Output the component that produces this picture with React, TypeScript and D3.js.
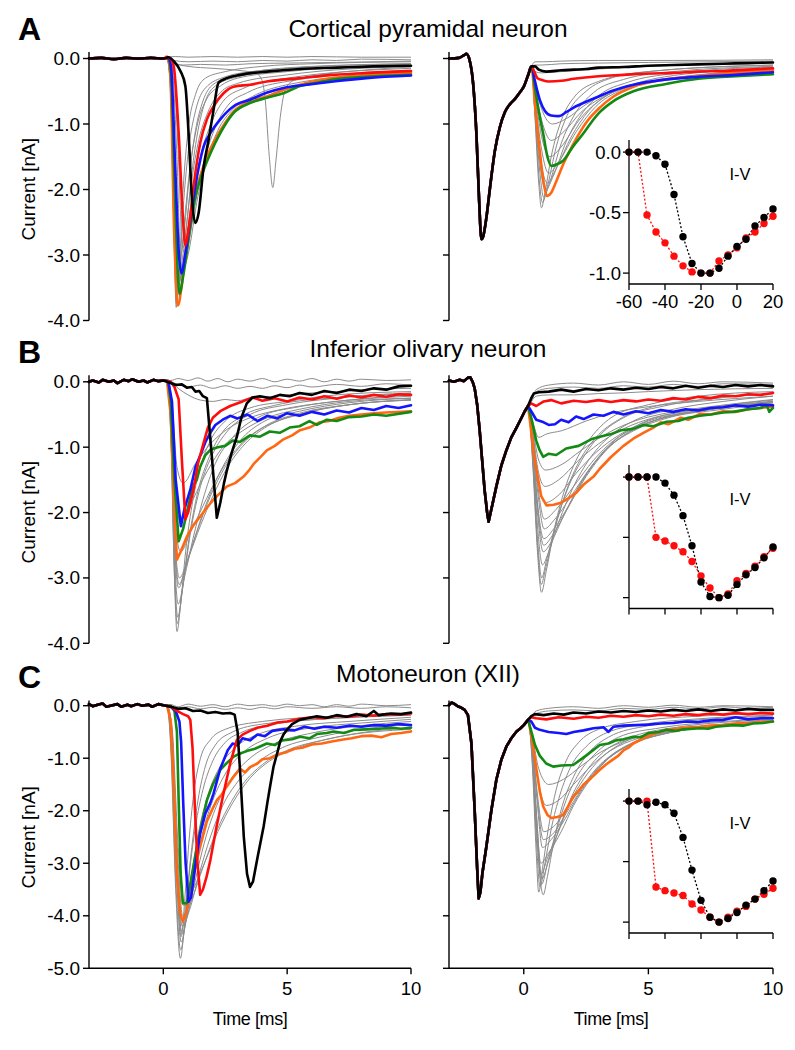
import React from "react";
import * as d3 from "d3";

type Pt = [number, number];

// ---------- Row A : Cortical pyramidal neuron ----------
const A_L_base: Pt[] = [[-3, 0], [-2.5, 0.01], [-2, -0.01], [-1.5, 0.01], [-1, 0], [-0.5, 0.01], [0, 0]];
const A_L_orange: Pt[] = [[0.15, 0.03], [0.28, -0.22], [0.44, -2.67], [0.59, -3.77], [0.75, -3.44], [0.95, -2.77], [1.15, -2.25], [1.36, -1.96], [1.76, -1.5], [2.16, -1.19], [2.5, -0.98], [2.84, -0.81], [3.5, -0.65], [4.18, -0.58], [4.85, -0.48], [5.52, -0.4], [6.2, -0.34], [6.87, -0.3], [8.2, -0.26], [10, -0.22]];
const A_L_green: Pt[] = [[0.2, 0.01], [0.31, -0.22], [0.48, -2.16], [0.65, -3.59], [0.82, -3.28], [1.09, -2.57], [1.3, -2.1], [1.49, -1.85], [1.9, -1.45], [2.3, -1.14], [2.84, -0.83], [3.5, -0.68], [4.18, -0.6], [4.85, -0.53], [5.52, -0.42], [6.2, -0.37], [6.87, -0.32], [8.2, -0.28], [10, -0.25]];
const A_L_blue: Pt[] = [[0.2, 0.01], [0.31, -0.12], [0.48, -1.65], [0.62, -2.93], [0.73, -3.28], [0.89, -2.98], [1.09, -2.47], [1.36, -1.8], [1.63, -1.34], [1.9, -1.14], [2.3, -0.93], [2.84, -0.73], [3.5, -0.63], [4.2, -0.52], [4.85, -0.45], [5.8, -0.4], [6.87, -0.35], [8.2, -0.3], [10, -0.26]];
const A_L_red: Pt[] = [[0.25, 0.01], [0.42, -0.12], [0.62, -1.14], [0.79, -2.42], [0.89, -2.85], [1.02, -2.62], [1.22, -1.96], [1.49, -1.29], [1.76, -0.93], [2.03, -0.73], [2.43, -0.53], [2.84, -0.43], [3.5, -0.4], [4.18, -0.35], [5.52, -0.3], [6.87, -0.25], [8.2, -0.22], [10, -0.19]];
const A_L_black: Pt[] = [[0.2, 0.02], [0.42, -0.04], [0.69, -0.19], [0.89, -0.42], [1.02, -1.14], [1.16, -2.16], [1.29, -2.51], [1.42, -2.37], [1.63, -1.65], [1.83, -1.24], [2.03, -0.78], [2.23, -0.37], [2.57, -0.3], [3.1, -0.25], [4.18, -0.2], [5.52, -0.16], [7, -0.14], [8.5, -0.12], [10, -0.11]];
const A_L_gray: Pt[][] = [
  [[0.15, 0], [0.3, -0.6], [0.45, -3.0], [0.52, -3.8], [0.62, -3.4], [0.8, -2.0], [1.0, -1.1], [1.3, -0.55], [1.7, -0.3], [2.5, -0.2], [4, -0.12], [6, -0.08], [10, -0.05]],
  [[0.15, 0], [0.3, -0.5], [0.45, -2.9], [0.53, -3.72], [0.64, -3.35], [0.8, -2.3], [1.0, -1.45], [1.3, -0.8], [1.7, -0.45], [2.5, -0.28], [4, -0.18], [6, -0.12], [10, -0.08]],
  [[0.15, 0], [0.3, -0.45], [0.46, -2.8], [0.55, -3.65], [0.66, -3.3], [0.85, -2.5], [1.05, -1.75], [1.35, -1.05], [1.75, -0.62], [2.3, -0.42], [3, -0.3], [5, -0.2], [10, -0.1]],
  [[0.15, 0], [0.3, -0.4], [0.47, -2.7], [0.56, -3.6], [0.68, -3.3], [0.88, -2.75], [1.1, -2.0], [1.4, -1.3], [1.8, -0.82], [2.3, -0.52], [3, -0.38], [5, -0.25], [10, -0.12]],
  [[0.15, 0], [0.3, -0.4], [0.48, -2.6], [0.57, -3.55], [0.7, -3.3], [0.92, -2.85], [1.2, -2.1], [1.5, -1.5], [1.9, -1.02], [2.4, -0.66], [3.2, -0.46], [5, -0.3], [10, -0.15]],
  [[0.15, 0], [0.3, -0.35], [0.48, -2.5], [0.58, -3.5], [0.72, -3.3], [0.96, -2.95], [1.3, -2.2], [1.7, -1.5], [2.1, -1.05], [2.6, -0.72], [3.4, -0.52], [5, -0.35], [10, -0.18]],
  [[0.15, 0], [0.3, -0.35], [0.5, -2.6], [0.6, -3.45], [0.75, -3.3], [1.0, -3.0], [1.4, -2.1], [1.8, -1.5], [2.2, -1.1], [2.8, -0.78], [3.6, -0.58], [5, -0.4], [10, -0.2]],
  [[0.15, 0], [0.35, -0.1], [0.55, -1.5], [0.7, -3.0], [0.85, -2.6], [1.05, -1.8], [1.3, -1.1], [1.6, -0.65], [2.0, -0.4], [3, -0.25], [5, -0.15], [10, -0.08]],
  [[0.2, 0], [0.4, -0.1], [0.6, -1.4], [0.78, -2.9], [0.95, -2.5], [1.15, -1.75], [1.4, -1.1], [1.7, -0.65], [2.1, -0.42], [3, -0.28], [5, -0.18], [10, -0.1]],
  [[0.2, 0], [0.4, -0.03], [1, -0.05], [2, -0.04], [3, -0.05], [4, -0.03], [5, -0.04], [6, -0.02], [7, -0.03], [8, -0.01], [10, -0.02]],
  [[0.2, 0.02], [0.5, 0.03], [1, 0.02], [2, 0.03], [3, 0.02], [4, 0.03], [5, 0.02], [6, 0.03], [8, 0.02], [10, 0.02]],
  [[0.2, 0], [0.4, -0.06], [0.8, -0.1], [1.5, -0.09], [2.5, -0.1], [3.5, -0.08], [5, -0.07], [7, -0.06], [10, -0.04]],
  [[0.2, 0], [0.5, -0.08], [1, -0.12], [2, -0.15], [3, -0.18], [3.7, -0.22], [3.95, -0.3], [4.12, -0.65], [4.28, -1.5], [4.42, -1.97], [4.55, -1.55], [4.72, -0.9], [4.95, -0.45], [5.3, -0.33], [6.5, -0.24], [8, -0.18], [10, -0.13]],
];

const A_R_pre: Pt[] = [[-3, 0], [-2.6, 0.01], [-2.4, 0.05], [-2.3, 0.07], [-2.17, -0.03], [-2.03, -0.39], [-1.9, -1.15], [-1.79, -2.18], [-1.7, -2.76], [-1.63, -2.72], [-1.5, -2.43], [-1.37, -2.02], [-1.16, -1.41], [-0.96, -1.05], [-0.76, -0.82], [-0.56, -0.7], [-0.36, -0.62], [-0.16, -0.52], [0, -0.43], [0.17, -0.26], [0.31, -0.12]];
const A_R_black: Pt[] = [[0.45, -0.12], [0.6, -0.17], [0.9, -0.2], [1.5, -0.18], [2, -0.17], [2.5, -0.16], [3, -0.14], [4, -0.13], [5, -0.11], [6, -0.1], [7, -0.09], [8, -0.08], [9, -0.07], [10, -0.06]];
const A_R_red: Pt[] = [[0.42, -0.2], [0.55, -0.3], [0.75, -0.33], [1.0, -0.35], [1.5, -0.34], [2, -0.31], [3, -0.27], [4, -0.25], [5, -0.23], [6, -0.22], [7, -0.2], [8, -0.19], [9, -0.17], [10, -0.15]];
const A_R_blue: Pt[] = [[0.45, -0.35], [0.65, -0.64], [0.85, -0.8], [1.1, -0.87], [1.4, -0.88], [1.7, -0.82], [2.0, -0.75], [2.5, -0.66], [3, -0.58], [3.5, -0.5], [4.4, -0.4], [5.5, -0.33], [7, -0.28], [8.5, -0.25], [10, -0.21]];
const A_R_green: Pt[] = [[0.45, -0.45], [0.6, -0.8], [0.78, -1.15], [0.95, -1.5], [1.11, -1.64], [1.3, -1.62], [1.58, -1.56], [2.0, -1.33], [2.38, -1.15], [2.7, -0.98], [3.05, -0.82], [3.6, -0.65], [4.4, -0.5], [5.7, -0.39], [7, -0.31], [8.5, -0.27], [10, -0.24]];
const A_R_orange: Pt[] = [[0.45, -0.7], [0.64, -1.41], [0.8, -1.9], [0.93, -2.1], [1.1, -2.05], [1.31, -1.87], [1.6, -1.6], [1.98, -1.31], [2.5, -0.98], [3.05, -0.75], [3.6, -0.58], [4.4, -0.43], [5.5, -0.33], [7, -0.27], [8.5, -0.22], [10, -0.18]];
const A_R_gray: Pt[][] = [
  [[0.45, -0.9], [0.6, -1.9], [0.71, -2.28], [0.85, -2.05], [1.1, -1.5], [1.5, -0.95], [2, -0.6], [3, -0.35], [5, -0.2], [10, -0.1]],
  [[0.45, -0.85], [0.62, -1.85], [0.75, -2.2], [0.95, -1.95], [1.3, -1.35], [1.8, -0.82], [2.5, -0.5], [3.5, -0.3], [5, -0.2], [10, -0.1]],
  [[0.45, -0.8], [0.65, -1.75], [0.8, -2.12], [1.05, -1.88], [1.5, -1.3], [2.0, -0.88], [2.8, -0.52], [4, -0.32], [6, -0.2], [10, -0.12]],
  [[0.45, -0.75], [0.68, -1.7], [0.88, -2.0], [1.2, -1.78], [1.7, -1.27], [2.3, -0.86], [3, -0.57], [4.2, -0.36], [6, -0.23], [10, -0.13]],
  [[0.45, -0.7], [0.7, -1.6], [0.95, -1.9], [1.3, -1.68], [1.9, -1.2], [2.6, -0.8], [3.4, -0.55], [4.6, -0.37], [6, -0.26], [10, -0.15]],
  [[0.45, -0.6], [0.72, -1.4], [1.0, -1.75], [1.4, -1.58], [2.1, -1.12], [2.9, -0.73], [3.8, -0.5], [5, -0.36], [7, -0.25], [10, -0.17]],
  [[0.45, -0.55], [0.75, -1.25], [1.05, -1.5], [1.5, -1.35], [2.2, -0.95], [3.0, -0.65], [4.0, -0.45], [5.5, -0.33], [7.5, -0.25], [10, -0.18]],
  [[0.45, -0.45], [0.8, -1.05], [1.1, -1.25], [1.6, -1.12], [2.3, -0.82], [3.2, -0.58], [4.3, -0.42], [6, -0.3], [10, -0.18]],
  [[0.45, -0.4], [0.8, -0.85], [1.15, -1.0], [1.7, -0.92], [2.5, -0.7], [3.5, -0.5], [5, -0.36], [7, -0.26], [10, -0.18]],
  [[0.45, -0.2], [0.7, -0.22], [1.5, -0.2], [3, -0.16], [5, -0.12], [10, -0.06]],
  [[0.45, -0.1], [0.7, -0.1], [1.5, -0.08], [3, -0.07], [5, -0.06], [10, -0.04]],
  [[0.45, -0.05], [0.8, -0.05], [1.5, -0.04], [3, -0.03], [6, -0.03], [10, -0.02]],
];

// ---------- Row B : Inferior olivary neuron ----------
const B_L_base: Pt[] = [[-3, 0], [-2.85, 0.02], [-2.6, -0.01], [-2.45, 0.03], [-2.2, 0], [-2.0, 0.02], [-1.85, -0.02], [-1.6, 0.03], [-1.4, 0.01], [-1.25, 0.04], [-1.0, 0], [-0.8, 0.02], [-0.65, -0.01], [-0.4, 0.03], [-0.2, 0.01], [0, 0.02]];
const B_L_black: Pt[] = [[0.25, -0.01], [0.5, -0.05], [0.75, -0.04], [0.95, -0.09], [1.15, -0.08], [1.3, -0.15], [1.45, -0.14], [1.6, -0.22], [1.76, -0.25], [1.95, -1.1], [2.16, -2.08], [2.3, -1.85], [2.45, -1.55], [2.57, -1.35], [2.75, -1.1], [2.97, -0.84], [3.15, -0.55], [3.37, -0.33], [3.6, -0.24], [3.9, -0.22], [4.3, -0.25], [4.7, -0.2], [5.1, -0.22], [5.5, -0.17], [6, -0.2], [6.5, -0.14], [7, -0.17], [7.5, -0.12], [8, -0.14], [8.5, -0.1], [9, -0.12], [9.5, -0.07], [10, -0.06]];
const B_L_red: Pt[] = [[0.3, 0], [0.45, -0.08], [0.62, -0.27], [0.75, -1.2], [0.89, -2.1], [1.0, -2.0], [1.22, -1.65], [1.4, -1.25], [1.63, -0.93], [1.8, -0.7], [2.0, -0.55], [2.3, -0.45], [2.7, -0.37], [3.2, -0.3], [3.6, -0.24], [4.0, -0.29], [4.5, -0.25], [5, -0.3], [5.5, -0.24], [6, -0.27], [6.5, -0.22], [7, -0.26], [7.5, -0.21], [8, -0.24], [8.5, -0.2], [9, -0.23], [9.5, -0.19], [10, -0.2]];
const B_L_blue: Pt[] = [[0.2, 0.01], [0.35, -0.3], [0.5, -1.5], [0.71, -2.21], [0.85, -1.95], [1.09, -1.65], [1.3, -1.3], [1.5, -1.12], [1.7, -0.92], [1.9, -0.78], [2.1, -0.66], [2.4, -0.58], [2.7, -0.52], [3.0, -0.56], [3.4, -0.5], [3.8, -0.6], [4.2, -0.52], [4.6, -0.56], [5, -0.48], [5.5, -0.52], [6, -0.46], [6.5, -0.5], [7, -0.44], [7.5, -0.47], [8, -0.4], [8.5, -0.43], [9, -0.37], [9.5, -0.4], [10, -0.36]];
const B_L_green: Pt[] = [[0.2, 0.01], [0.3, -0.3], [0.45, -1.5], [0.62, -2.44], [0.8, -2.25], [0.95, -2.0], [1.2, -1.6], [1.35, -1.5], [1.49, -1.3], [1.7, -1.12], [1.9, -1.04], [2.2, -1.0], [2.5, -0.98], [2.8, -0.9], [3.1, -0.92], [3.5, -0.82], [3.9, -0.84], [4.3, -0.76], [4.7, -0.78], [5.1, -0.7], [5.5, -0.68], [5.9, -0.6], [6.2, -0.66], [6.6, -0.58], [7, -0.6], [7.5, -0.54], [8, -0.53], [8.5, -0.5], [9, -0.52], [10, -0.46]];
const B_L_orange: Pt[] = [[0.15, 0.01], [0.3, -0.5], [0.45, -2.0], [0.55, -2.72], [0.7, -2.6], [0.95, -2.37], [1.2, -2.2], [1.49, -2.06], [1.75, -1.93], [2.03, -1.8], [2.3, -1.7], [2.57, -1.6], [2.9, -1.55], [3.24, -1.45], [3.45, -1.36], [3.64, -1.26], [3.9, -1.16], [4.18, -1.05], [4.5, -0.98], [4.85, -0.88], [5.2, -0.82], [5.52, -0.74], [5.9, -0.7], [6.3, -0.62], [6.7, -0.6], [7.1, -0.55], [7.5, -0.52], [8, -0.5], [8.5, -0.48], [9, -0.47], [10, -0.45]];
const B_L_gray: Pt[][] = [
  [[0.15, 0], [0.3, -0.8], [0.45, -3.0], [0.55, -3.82], [0.7, -3.4], [0.9, -2.6], [1.2, -1.8], [1.5, -1.3], [1.9, -0.9], [2.5, -0.6], [3.5, -0.4], [5, -0.3], [7, -0.2], [10, -0.15]],
  [[0.15, 0], [0.3, -0.75], [0.45, -2.95], [0.56, -3.7], [0.75, -3.25], [1.0, -2.5], [1.35, -1.75], [1.8, -1.2], [2.3, -0.82], [3.2, -0.52], [4.5, -0.36], [7, -0.24], [10, -0.17]],
  [[0.15, 0], [0.3, -0.7], [0.46, -2.9], [0.58, -3.6], [0.8, -3.1], [1.1, -2.3], [1.5, -1.6], [2, -1.1], [2.6, -0.75], [3.5, -0.5], [5, -0.35], [7, -0.25], [10, -0.18]],
  [[0.15, 0], [0.3, -0.65], [0.47, -2.8], [0.6, -3.4], [0.85, -3.0], [1.2, -2.4], [1.6, -1.8], [2.1, -1.25], [2.8, -0.85], [3.8, -0.55], [5.5, -0.38], [7.5, -0.28], [10, -0.2]],
  [[0.15, 0], [0.3, -0.6], [0.48, -2.7], [0.62, -3.15], [0.9, -2.85], [1.3, -2.35], [1.8, -1.8], [2.4, -1.3], [3.1, -0.9], [4, -0.62], [5.5, -0.45], [7.5, -0.32], [10, -0.25]],
  [[0.15, 0], [0.3, -0.6], [0.5, -2.7], [0.64, -3.1], [0.95, -2.75], [1.4, -2.25], [1.9, -1.75], [2.5, -1.3], [3.2, -0.95], [4.1, -0.68], [5.5, -0.48], [7.5, -0.35], [10, -0.27]],
  [[0.15, 0], [0.3, -0.55], [0.5, -2.6], [0.65, -3.0], [1.0, -2.7], [1.5, -2.2], [2.0, -1.75], [2.6, -1.3], [3.3, -0.95], [4.2, -0.68], [5.5, -0.5], [7.5, -0.35], [10, -0.28]],
  [[0.15, 0], [0.32, -0.5], [0.52, -2.3], [0.7, -2.6], [1.1, -2.3], [1.6, -1.9], [2.2, -1.45], [2.8, -1.1], [3.6, -0.8], [4.6, -0.6], [6, -0.45], [8, -0.33], [10, -0.28]],
  [[0.15, 0], [0.35, -0.4], [0.55, -1.9], [0.75, -2.2], [1.2, -1.8], [1.8, -1.35], [2.4, -1.0], [3.2, -0.75], [4.2, -0.55], [5.5, -0.42], [7.5, -0.3], [10, -0.25]],
  [[0.15, 0], [0.35, -0.3], [0.55, -1.3], [0.8, -1.55], [1.3, -1.25], [1.9, -0.95], [2.6, -0.72], [3.5, -0.55], [4.8, -0.42], [6.5, -0.32], [10, -0.22]],
  [[0.3, 0.02], [0.6, 0.05], [1, 0.02], [1.4, 0.06], [1.8, 0.01], [2.2, 0.05], [2.6, 0], [3, 0.04], [3.5, 0.01], [4, 0.05], [4.5, 0], [5, 0.04], [5.5, 0.01], [6, 0.05], [6.5, 0], [7, 0.04], [7.5, 0.01], [8, 0.04], [9, 0.02], [10, 0.03]],
  [[0.3, 0], [0.6, -0.04], [1, -0.08], [1.5, -0.05], [2, -0.1], [2.5, -0.06], [3, -0.1], [3.5, -0.07], [4, -0.1], [4.5, -0.06], [5, -0.09], [5.5, -0.05], [6, -0.08], [7, -0.04], [8, -0.07], [9, -0.03], [10, -0.05]],
  [[0.3, 0], [0.6, -0.1], [1, -0.2], [1.5, -0.28], [2, -0.3], [2.5, -0.27], [3, -0.29], [3.5, -0.25], [4, -0.24], [5, -0.2], [6, -0.17], [7, -0.15], [8, -0.12], [10, -0.1]],
];

const B_R_pre: Pt[] = [[-3, 0.02], [-2.8, 0], [-2.57, 0.03], [-2.4, 0.01], [-2.25, 0.06], [-2.15, 0.07], [-2.05, 0], [-1.97, -0.1], [-1.87, -0.35], [-1.77, -0.74], [-1.67, -1.2], [-1.57, -1.66], [-1.47, -2.0], [-1.41, -2.14], [-1.33, -2.0], [-1.26, -1.88], [-1.1, -1.6], [-0.9, -1.28], [-0.7, -1.05], [-0.5, -0.85], [-0.29, -0.7], [-0.09, -0.55], [0.04, -0.45], [0.17, -0.37]];
const B_R_black: Pt[] = [[0.3, -0.25], [0.4, -0.18], [0.6, -0.16], [1, -0.15], [1.5, -0.12], [2, -0.15], [2.5, -0.11], [3, -0.13], [3.5, -0.1], [4, -0.12], [4.5, -0.09], [5, -0.11], [5.5, -0.08], [6, -0.1], [6.5, -0.06], [7, -0.09], [7.5, -0.06], [8, -0.08], [8.5, -0.05], [9, -0.07], [9.5, -0.05], [10, -0.07]];
const B_R_red: Pt[] = [[0.3, -0.33], [0.5, -0.37], [0.8, -0.3], [1.1, -0.28], [1.5, -0.33], [2, -0.29], [2.5, -0.31], [3, -0.28], [3.5, -0.31], [4, -0.28], [4.5, -0.3], [5, -0.27], [5.5, -0.29], [6, -0.25], [6.5, -0.27], [7, -0.23], [7.5, -0.25], [8, -0.21], [8.5, -0.22], [9, -0.19], [9.5, -0.2], [10, -0.17]];
const B_R_blue: Pt[] = [[0.3, -0.45], [0.5, -0.58], [0.8, -0.62], [1.0, -0.66], [1.25, -0.65], [1.5, -0.58], [1.8, -0.62], [2.1, -0.53], [2.4, -0.57], [2.8, -0.5], [3.2, -0.52], [3.6, -0.46], [4, -0.5], [4.5, -0.45], [5, -0.48], [5.5, -0.43], [6, -0.46], [6.5, -0.42], [7, -0.44], [7.5, -0.4], [8, -0.39], [8.5, -0.36], [9, -0.38], [9.5, -0.35], [10, -0.36]];
const B_R_green: Pt[] = [[0.3, -0.55], [0.5, -0.9], [0.64, -1.05], [0.78, -1.15], [1.0, -1.1], [1.3, -1.12], [1.7, -1.02], [2.2, -0.98], [2.7, -0.88], [3.05, -0.84], [3.5, -0.8], [3.9, -0.74], [4.39, -0.72], [4.8, -0.66], [5.2, -0.68], [5.73, -0.61], [6.2, -0.6], [6.6, -0.55], [7.07, -0.52], [7.5, -0.5], [8, -0.47], [8.4, -0.46], [9, -0.42], [9.5, -0.4], [9.75, -0.36], [9.85, -0.46], [10, -0.4]];
const B_R_orange: Pt[] = [[0.25, -0.6], [0.4, -1.1], [0.51, -1.35], [0.7, -1.75], [0.91, -1.89], [1.2, -1.88], [1.5, -1.85], [1.8, -1.78], [2.1, -1.7], [2.38, -1.58], [2.8, -1.45], [3.05, -1.33], [3.5, -1.15], [4, -0.98], [4.39, -0.87], [4.8, -0.78], [5.2, -0.7], [5.5, -0.62], [5.8, -0.65], [6.3, -0.55], [6.6, -0.58], [7.07, -0.49], [7.5, -0.5], [8, -0.45], [8.5, -0.46], [9, -0.42], [9.5, -0.4], [10, -0.38]];
const B_R_gray: Pt[][] = [
  [[0.35, -1.2], [0.55, -2.6], [0.71, -3.22], [0.9, -2.9], [1.2, -2.3], [1.6, -1.7], [2.1, -1.2], [2.7, -0.85], [3.5, -0.55], [5, -0.35], [7, -0.22], [10, -0.15]],
  [[0.35, -1.15], [0.55, -2.5], [0.7, -3.1], [0.88, -2.85], [1.25, -2.25], [1.7, -1.68], [2.25, -1.2], [2.9, -0.85], [3.8, -0.58], [5.2, -0.38], [7.5, -0.26], [10, -0.18]],
  [[0.35, -1.1], [0.55, -2.4], [0.72, -3.0], [0.9, -2.75], [1.3, -2.15], [1.8, -1.6], [2.4, -1.15], [3.1, -0.8], [4, -0.55], [5.5, -0.38], [7.5, -0.26], [10, -0.18]],
  [[0.35, -1.0], [0.55, -2.2], [0.75, -2.8], [1.0, -2.6], [1.4, -2.15], [2.0, -1.6], [2.6, -1.2], [3.4, -0.85], [4.4, -0.6], [6, -0.42], [8, -0.3], [10, -0.22]],
  [[0.35, -0.95], [0.55, -2.0], [0.78, -2.6], [1.1, -2.45], [1.6, -2.05], [2.2, -1.6], [2.9, -1.2], [3.7, -0.88], [4.8, -0.62], [6.5, -0.45], [8.5, -0.34], [10, -0.28]],
  [[0.35, -0.9], [0.55, -1.9], [0.8, -2.5], [1.15, -2.35], [1.7, -1.98], [2.35, -1.52], [3.1, -1.12], [4.0, -0.82], [5.2, -0.6], [7, -0.45], [10, -0.32]],
  [[0.35, -0.9], [0.55, -1.85], [0.8, -2.4], [1.2, -2.25], [1.8, -1.9], [2.5, -1.45], [3.3, -1.05], [4.2, -0.78], [5.5, -0.56], [7.5, -0.42], [10, -0.3]],
  [[0.35, -0.85], [0.58, -1.75], [0.82, -2.25], [1.25, -2.1], [1.9, -1.75], [2.6, -1.35], [3.4, -1.0], [4.4, -0.75], [5.8, -0.55], [8, -0.42], [10, -0.32]],
  [[0.35, -0.8], [0.6, -1.7], [0.82, -2.1], [1.3, -1.95], [2.0, -1.6], [2.8, -1.2], [3.6, -0.9], [4.6, -0.68], [6, -0.52], [8, -0.4], [10, -0.3]],
  [[0.35, -0.78], [0.6, -1.55], [0.85, -1.85], [1.35, -1.75], [2.1, -1.4], [2.9, -1.08], [3.8, -0.82], [5, -0.6], [6.5, -0.47], [10, -0.32]],
  [[0.35, -0.75], [0.6, -1.4], [0.85, -1.6], [1.4, -1.5], [2.2, -1.2], [3, -0.95], [4, -0.72], [5.2, -0.55], [7, -0.42], [10, -0.3]],
  [[0.35, -0.7], [0.6, -1.2], [0.88, -1.35], [1.45, -1.28], [2.3, -1.05], [3.2, -0.82], [4.3, -0.62], [5.7, -0.48], [7.5, -0.38], [10, -0.27]],
  [[0.35, -0.6], [0.6, -0.85], [0.9, -0.8], [1.5, -0.75], [2.5, -0.6], [3.5, -0.48], [5, -0.38], [7, -0.3], [10, -0.22]],
  [[0.3, -0.3], [0.5, -0.15], [1, -0.1], [2, -0.08], [3, -0.1], [4, -0.06], [5, -0.08], [6, -0.04], [7, -0.07], [8, -0.03], [10, -0.04]],
  [[0.3, -0.3], [0.5, -0.12], [1, -0.05], [2, -0.02], [3, -0.05], [4, 0], [5, -0.04], [6, 0.01], [7, -0.03], [8, 0], [10, -0.02]],
  [[0.3, -0.3], [0.5, -0.22], [1, -0.2], [2, -0.2], [3, -0.18], [4, -0.17], [5, -0.15], [7, -0.12], [10, -0.1]],
];

// ---------- Row C : Motoneuron (XII) ----------
const C_L_base: Pt[] = [[-3, 0.03], [-2.85, -0.01], [-2.65, 0.02], [-2.45, 0.04], [-2.3, -0.02], [-2.05, 0.01], [-1.85, 0.03], [-1.7, -0.02], [-1.45, 0.02], [-1.3, -0.01], [-1.05, 0.03], [-0.85, 0], [-0.6, 0.02], [-0.45, -0.02], [-0.2, 0.03], [0, 0.01]];
const C_L_black: Pt[] = [[0.3, -0.02], [0.6, -0.06], [0.9, -0.05], [1.2, -0.1], [1.5, -0.09], [1.8, -0.14], [2.1, -0.12], [2.4, -0.15], [2.7, -0.14], [2.88, -0.17], [3.0, -0.5], [3.12, -1.4], [3.25, -2.5], [3.38, -3.2], [3.5, -3.45], [3.62, -3.35], [3.8, -2.9], [4.05, -2.3], [4.2, -1.85], [4.31, -1.54], [4.45, -1.16], [4.6, -0.9], [4.72, -0.68], [4.85, -0.55], [4.99, -0.46], [5.2, -0.35], [5.5, -0.27], [5.8, -0.24], [6.2, -0.2], [6.6, -0.23], [7, -0.18], [7.4, -0.21], [7.8, -0.16], [8.2, -0.2], [8.5, -0.1], [8.7, -0.18], [9.2, -0.15], [9.6, -0.16], [10, -0.13]];
const C_L_red: Pt[] = [[0.3, -0.02], [0.55, -0.1], [0.8, -0.16], [1.0, -0.2], [1.09, -0.27], [1.18, -0.8], [1.28, -2.0], [1.38, -3.0], [1.49, -3.6], [1.6, -3.5], [1.75, -3.25], [1.9, -2.94], [2.15, -2.3], [2.43, -1.67], [2.7, -1.1], [2.97, -0.65], [3.2, -0.55], [3.5, -0.48], [3.8, -0.42], [4.2, -0.38], [4.6, -0.32], [5, -0.3], [5.5, -0.25], [6, -0.22], [6.5, -0.24], [7, -0.19], [7.5, -0.21], [8, -0.17], [8.5, -0.19], [9, -0.16], [9.5, -0.17], [10, -0.15]];
const C_L_blue: Pt[] = [[0.3, -0.02], [0.5, -0.1], [0.65, -0.3], [0.72, -0.7], [0.8, -1.8], [0.9, -3.0], [1.02, -3.73], [1.12, -3.65], [1.25, -3.2], [1.4, -2.7], [1.49, -2.43], [1.7, -2.05], [1.9, -1.85], [2.03, -1.67], [2.3, -1.2], [2.6, -0.85], [2.8, -0.72], [3.0, -0.75], [3.2, -0.62], [3.5, -0.66], [3.8, -0.55], [4.1, -0.58], [4.4, -0.48], [4.85, -0.45], [5.3, -0.47], [5.7, -0.4], [6.1, -0.44], [6.5, -0.4], [7, -0.42], [7.5, -0.38], [8, -0.4], [8.5, -0.37], [9, -0.38], [9.5, -0.35], [10, -0.37]];
const C_L_green: Pt[] = [[0.3, 0], [0.45, -0.1], [0.55, -0.5], [0.62, -1.8], [0.7, -3.2], [0.79, -3.76], [0.95, -3.76], [1.05, -3.5], [1.2, -3.1], [1.36, -2.68], [1.55, -2.25], [1.76, -1.8], [2.0, -1.5], [2.3, -1.22], [2.5, -1.12], [2.84, -0.97], [3.1, -0.91], [3.4, -0.86], [3.7, -0.82], [4.18, -0.72], [4.5, -0.75], [4.8, -0.66], [5.2, -0.64], [5.52, -0.59], [5.9, -0.62], [6.2, -0.54], [6.6, -0.52], [6.87, -0.49], [7.3, -0.52], [7.7, -0.46], [8.2, -0.45], [8.7, -0.44], [9.2, -0.42], [9.6, -0.44], [10, -0.42]];
const C_L_orange: Pt[] = [[0.15, 0.01], [0.3, -0.3], [0.42, -1.5], [0.55, -3.2], [0.68, -3.95], [0.79, -4.11], [0.92, -3.95], [1.09, -3.57], [1.3, -3.05], [1.49, -2.68], [1.76, -2.2], [2.0, -1.95], [2.16, -1.8], [2.35, -1.7], [2.5, -1.58], [2.84, -1.35], [3.1, -1.2], [3.3, -1.27], [3.5, -1.17], [3.8, -1.1], [4.0, -1.02], [4.3, -1.0], [4.6, -0.93], [5.0, -0.88], [5.3, -0.82], [5.6, -0.8], [6.0, -0.74], [6.4, -0.72], [6.8, -0.68], [7.2, -0.65], [7.6, -0.62], [8.0, -0.58], [8.4, -0.57], [8.8, -0.6], [9.2, -0.54], [9.6, -0.52], [10, -0.49]];
const C_L_gray: Pt[][] = [
  [[0.15, 0], [0.3, -0.8], [0.5, -3.5], [0.69, -4.81], [0.85, -4.2], [1.05, -3.2], [1.3, -2.3], [1.6, -1.6], [2.0, -1.05], [2.5, -0.7], [3.2, -0.5], [4.5, -0.35], [6.5, -0.25], [10, -0.18]],
  [[0.15, 0], [0.3, -0.7], [0.5, -3.3], [0.7, -4.65], [0.9, -4.1], [1.15, -3.2], [1.45, -2.35], [1.8, -1.7], [2.3, -1.15], [2.9, -0.8], [3.8, -0.55], [5.5, -0.38], [7.5, -0.3], [10, -0.22]],
  [[0.15, 0], [0.3, -0.6], [0.52, -3.1], [0.72, -4.5], [0.95, -4.0], [1.25, -3.2], [1.6, -2.4], [2.0, -1.8], [2.5, -1.3], [3.2, -0.9], [4.2, -0.62], [6, -0.42], [8, -0.33], [10, -0.26]],
  [[0.15, 0], [0.3, -0.55], [0.54, -3.0], [0.74, -4.35], [1.0, -3.95], [1.35, -3.2], [1.75, -2.45], [2.2, -1.85], [2.8, -1.35], [3.5, -1.0], [4.5, -0.72], [6, -0.52], [8, -0.38], [10, -0.3]],
  [[0.15, 0], [0.3, -0.5], [0.56, -2.9], [0.76, -4.2], [1.05, -3.9], [1.45, -3.2], [1.9, -2.5], [2.4, -1.9], [3.0, -1.45], [3.8, -1.08], [4.8, -0.8], [6.3, -0.6], [8, -0.45], [10, -0.36]],
  [[0.15, 0], [0.32, -0.45], [0.58, -2.8], [0.78, -4.0], [1.1, -3.75], [1.55, -3.15], [2.05, -2.5], [2.6, -1.95], [3.2, -1.5], [4.0, -1.12], [5, -0.85], [6.5, -0.65], [8.2, -0.5], [10, -0.42]],
  [[0.15, 0], [0.35, -0.4], [0.6, -2.7], [0.8, -3.8], [1.2, -3.5], [1.7, -2.95], [2.2, -2.4], [2.8, -1.85], [3.5, -1.38], [4.3, -1.05], [5.3, -0.82], [7, -0.6], [10, -0.45]],
  [[0.15, 0], [0.35, -0.5], [0.55, -3.3], [0.72, -4.4], [0.88, -3.6], [1.05, -2.5], [1.25, -1.6], [1.5, -1.0], [1.9, -0.65], [2.5, -0.45], [4, -0.3], [7, -0.2], [10, -0.15]],
  [[0.15, 0], [0.35, -0.45], [0.57, -3.2], [0.74, -4.3], [0.92, -3.7], [1.15, -2.7], [1.4, -1.8], [1.7, -1.15], [2.1, -0.75], [2.8, -0.5], [4, -0.35], [7, -0.24], [10, -0.18]],
  [[0.3, 0.02], [0.6, -0.02], [1, 0.03], [1.5, -0.01], [2, 0.02], [2.5, -0.02], [3, 0.03], [3.5, 0], [4, 0.02], [4.5, -0.01], [5, 0.03], [5.5, 0], [6, 0.02], [6.5, -0.02], [7, 0.02], [7.5, -0.01], [8, 0.03], [9, 0], [10, 0.02]],
  [[0.3, 0], [0.6, -0.04], [1, -0.02], [1.5, -0.06], [2, -0.03], [2.5, -0.07], [3, -0.04], [3.5, -0.07], [4, -0.03], [4.5, -0.06], [5, -0.02], [6, -0.05], [7, -0.02], [8, -0.05], [9, -0.02], [10, -0.04]],
];

const C_R_pre: Pt[] = [[-3, 0.01], [-2.9, 0.06], [-2.8, 0.04], [-2.65, -0.01], [-2.5, -0.04], [-2.37, -0.08], [-2.24, -0.18], [-2.1, -0.72], [-1.97, -1.99], [-1.87, -3.1], [-1.81, -3.67], [-1.74, -3.55], [-1.66, -3.19], [-1.5, -2.68], [-1.3, -1.99], [-1.1, -1.41], [-0.9, -1.03], [-0.7, -0.78], [-0.5, -0.62], [-0.29, -0.49], [-0.13, -0.43], [0, -0.37], [0.17, -0.27]];
const C_R_black: Pt[] = [[0.3, -0.2], [0.45, -0.16], [0.8, -0.18], [1.2, -0.15], [1.6, -0.17], [2, -0.13], [2.5, -0.15], [3, -0.11], [3.5, -0.13], [4, -0.1], [4.5, -0.12], [5, -0.09], [5.5, -0.11], [6, -0.08], [6.5, -0.1], [7, -0.07], [7.5, -0.1], [8, -0.07], [8.5, -0.09], [9, -0.06], [9.5, -0.08], [10, -0.08]];
const C_R_red: Pt[] = [[0.3, -0.22], [0.5, -0.24], [0.9, -0.26], [1.4, -0.22], [2, -0.25], [2.5, -0.21], [3, -0.23], [3.5, -0.19], [4, -0.21], [4.5, -0.18], [5, -0.2], [5.5, -0.17], [6, -0.19], [6.5, -0.16], [7, -0.18], [7.5, -0.15], [8, -0.17], [8.5, -0.14], [9, -0.16], [9.5, -0.14], [10, -0.15]];
const C_R_blue: Pt[] = [[0.3, -0.3], [0.45, -0.42], [0.64, -0.46], [1.0, -0.5], [1.4, -0.52], [1.71, -0.54], [2.0, -0.5], [2.4, -0.47], [2.8, -0.43], [3.2, -0.41], [3.4, -0.5], [3.6, -0.4], [4.0, -0.38], [4.5, -0.37], [5.0, -0.36], [5.5, -0.34], [6, -0.33], [6.5, -0.3], [7, -0.31], [7.5, -0.28], [8, -0.27], [8.5, -0.22], [9, -0.26], [9.5, -0.24], [10, -0.24]];
const C_R_green: Pt[] = [[0.25, -0.4], [0.45, -0.75], [0.64, -0.95], [0.9, -1.1], [1.18, -1.16], [1.5, -1.14], [1.98, -1.13], [2.5, -0.95], [3.05, -0.75], [3.4, -0.72], [3.7, -0.66], [4.0, -0.64], [4.39, -0.59], [4.7, -0.6], [5, -0.52], [5.4, -0.5], [5.73, -0.46], [6.1, -0.48], [6.4, -0.45], [7.07, -0.43], [7.4, -0.44], [7.7, -0.4], [8.4, -0.37], [8.8, -0.38], [9.2, -0.34], [9.6, -0.33], [10, -0.3]];
const C_R_orange: Pt[] = [[0.2, -0.3], [0.35, -0.7], [0.51, -1.22], [0.65, -1.65], [0.78, -1.92], [0.95, -2.08], [1.11, -2.14], [1.35, -2.12], [1.58, -2.08], [1.8, -1.9], [1.98, -1.73], [2.2, -1.62], [2.4, -1.5], [2.7, -1.38], [3.05, -1.22], [3.3, -1.12], [3.5, -1.05], [3.8, -0.95], [4, -0.85], [4.2, -0.8], [4.39, -0.72], [4.8, -0.62], [5.2, -0.54], [5.73, -0.46], [6.1, -0.44], [6.4, -0.42], [7.07, -0.4], [7.5, -0.38], [8, -0.37], [8.5, -0.34], [9, -0.33], [9.5, -0.31], [10, -0.3]];
const C_R_gray: Pt[][] = [
  [[0.35, -1.2], [0.5, -2.8], [0.6, -3.55], [0.75, -3.1], [1.0, -2.3], [1.3, -1.6], [1.7, -1.05], [2.2, -0.7], [3, -0.45], [4.5, -0.3], [7, -0.2], [10, -0.15]],
  [[0.35, -1.1], [0.5, -2.5], [0.65, -3.45], [0.85, -3.0], [1.1, -2.35], [1.45, -1.7], [1.9, -1.15], [2.5, -0.78], [3.3, -0.52], [5, -0.34], [7, -0.25], [10, -0.18]],
  [[0.35, -1.0], [0.5, -2.3], [0.78, -3.6], [0.95, -3.25], [1.2, -2.6], [1.55, -1.9], [2.0, -1.35], [2.6, -0.9], [3.4, -0.6], [5, -0.38], [7, -0.27], [10, -0.2]],
  [[0.35, -0.95], [0.5, -2.2], [0.72, -3.4], [0.95, -3.0], [1.3, -2.4], [1.7, -1.8], [2.2, -1.3], [2.9, -0.9], [3.8, -0.6], [5.5, -0.42], [8, -0.3], [10, -0.25]],
  [[0.35, -0.9], [0.52, -2.15], [0.72, -3.3], [1.0, -2.95], [1.45, -2.3], [1.95, -1.7], [2.5, -1.25], [3.2, -0.88], [4.2, -0.62], [6, -0.42], [10, -0.27]],
  [[0.35, -0.9], [0.5, -2.1], [0.7, -3.2], [0.95, -2.9], [1.35, -2.45], [1.85, -1.85], [2.4, -1.4], [3.1, -1.0], [4, -0.7], [5.5, -0.5], [8, -0.35], [10, -0.28]],
  [[0.35, -0.85], [0.5, -2.0], [0.68, -3.0], [1.0, -2.8], [1.5, -2.4], [2.0, -1.9], [2.6, -1.45], [3.3, -1.05], [4.2, -0.75], [5.5, -0.55], [8, -0.38], [10, -0.3]],
  [[0.35, -0.8], [0.55, -1.9], [0.75, -2.7], [1.1, -2.55], [1.6, -2.2], [2.2, -1.7], [2.8, -1.3], [3.5, -0.95], [4.5, -0.7], [6, -0.5], [8, -0.38], [10, -0.3]],
  [[0.35, -0.78], [0.55, -1.8], [0.78, -2.55], [1.15, -2.45], [1.7, -2.05], [2.3, -1.6], [2.9, -1.22], [3.7, -0.9], [4.7, -0.66], [6.2, -0.48], [10, -0.3]],
  [[0.35, -0.75], [0.55, -1.7], [0.8, -2.4], [1.2, -2.3], [1.8, -1.9], [2.4, -1.5], [3.0, -1.15], [3.8, -0.85], [4.8, -0.62], [6.5, -0.45], [10, -0.3]],
  [[0.35, -0.7], [0.6, -1.5], [0.9, -1.9], [1.4, -1.8], [2.0, -1.5], [2.7, -1.15], [3.5, -0.85], [4.6, -0.62], [6, -0.48], [8, -0.38], [10, -0.3]],
  [[0.35, -0.6], [0.6, -1.2], [1.0, -1.5], [1.6, -1.4], [2.3, -1.15], [3.1, -0.88], [4.2, -0.65], [5.5, -0.5], [7.5, -0.4], [10, -0.3]],
  [[0.3, -0.2], [0.5, -0.15], [1, -0.1], [2, -0.08], [3, -0.1], [4, -0.05], [5, -0.07], [6, -0.03], [7, -0.06], [8, -0.02], [9, -0.05], [10, -0.03]],
  [[0.3, -0.2], [0.5, -0.1], [1, -0.05], [2, -0.02], [3, -0.05], [4, 0], [5, -0.03], [6, 0.01], [7, -0.03], [8, 0], [10, -0.02]],
];

// ---------- I-V insets (normalised) ----------
const IV_V = [-60, -55, -50, -45, -40, -35, -30, -25, -20, -15, -10, -5, 0, 5, 10, 15, 20];
const IV_A_black = [0, 0, 0, -0.03, -0.1, -0.35, -0.7, -0.92, -1.0, -1.0, -0.96, -0.86, -0.78, -0.72, -0.61, -0.54, -0.47];
const IV_A_red = [0, 0, -0.52, -0.66, -0.75, -0.86, -0.94, -0.99, -1.0, -1.0, -0.9, -0.85, -0.79, -0.71, -0.66, -0.59, -0.53];
const IV_B_black = [0, 0, 0, 0, -0.05, -0.15, -0.32, -0.57, -0.87, -0.99, -1.0, -0.98, -0.89, -0.81, -0.75, -0.67, -0.58];
const IV_B_red = [0, 0, 0, -0.5, -0.53, -0.57, -0.62, -0.7, -0.82, -0.92, -1.0, -0.97, -0.86, -0.8, -0.74, -0.66, -0.59];
const IV_C_black = [0, 0, -0.03, -0.01, -0.03, -0.1, -0.3, -0.57, -0.82, -0.96, -1.0, -0.97, -0.92, -0.86, -0.81, -0.74, -0.66];
const IV_C_red = [0, 0, 0, -0.71, -0.74, -0.76, -0.78, -0.85, -0.9, -0.96, -1.0, -0.96, -0.91, -0.87, -0.81, -0.77, -0.72];

const X_TICKS = [0, 5, 10];
const IV_X_TICKS = [-60, -40, -20, 0, 20];
const IV_Y_TICKS = [0, -0.5, -1.0];
const TITLES = ["Cortical pyramidal neuron", "Inferior olivary neuron", "Motoneuron (XII)"];
const LETTERS = ["A", "B", "C"];

const FONT = "'Liberation Sans', Arial, Helvetica, sans-serif";
const COL = { gray: "#8c8c8c", orange: "#ff6812", green: "#138a13", blue: "#1414ff", red: "#ff0d0d", black: "#000000" };

type TraceSet = { gray: Pt[][]; orange: Pt[]; green: Pt[]; blue: Pt[]; red: Pt[]; black: Pt[] };

function withPre(pre: Pt[], set: TraceSet): TraceSet {
  return {
    gray: set.gray.map((g) => pre.concat(g)),
    orange: pre.concat(set.orange),
    green: pre.concat(set.green),
    blue: pre.concat(set.blue),
    red: pre.concat(set.red),
    black: pre.concat(set.black),
  };
}

const ROWS = [
  {
    yMin: -4, yBottom: 320.5, yZero: 58.5, titleY: 37, letterY: 40, noisy: false,
    left: withPre(A_L_base, { gray: A_L_gray, orange: A_L_orange, green: A_L_green, blue: A_L_blue, red: A_L_red, black: A_L_black }),
    right: withPre(A_R_pre, { gray: A_R_gray, orange: A_R_orange, green: A_R_green, blue: A_R_blue, red: A_R_red, black: A_R_black }),
    iv: { black: IV_A_black, red: IV_A_red, top: 140, bottom: 284, labels: true },
    xAxis: false,
  },
  {
    yMin: -4, yBottom: 643.3, yZero: 381.8, titleY: 357, letterY: 363, noisy: true,
    left: withPre(B_L_base, { gray: B_L_gray, orange: B_L_orange, green: B_L_green, blue: B_L_blue, red: B_L_red, black: B_L_black }),
    right: withPre(B_R_pre, { gray: B_R_gray, orange: B_R_orange, green: B_R_green, blue: B_R_blue, red: B_R_red, black: B_R_black }),
    iv: { black: IV_B_black, red: IV_B_red, top: 465, bottom: 608.5, labels: false },
    xAxis: false,
  },
  {
    yMin: -5, yBottom: 968.3, yZero: 705.7, titleY: 682, letterY: 688, noisy: true,
    left: withPre(C_L_base, { gray: C_L_gray, orange: C_L_orange, green: C_L_green, blue: C_L_blue, red: C_L_red, black: C_L_black }),
    right: withPre(C_R_pre, { gray: C_R_gray, orange: C_R_orange, green: C_R_green, blue: C_R_blue, red: C_R_red, black: C_R_black }),
    iv: { black: IV_C_black, red: IV_C_red, top: 789, bottom: 933, labels: false },
    xAxis: true,
  },
];

function TracePanel(props: { x0: number; x1: number; row: (typeof ROWS)[number]; set: TraceSet; labels: boolean }) {
  const { x0, x1, row, set, labels } = props;
  const xs = d3.scaleLinear().domain([-3, 10]).range([x0, x1]);
  const ys = d3.scaleLinear().domain([row.yMin, 0]).range([row.yBottom, row.yZero]);
  const smooth = d3.line<Pt>().x((d) => xs(d[0])).y((d) => ys(d[1])).curve(d3.curveMonotoneX);
  const jagged = d3.line<Pt>().x((d) => xs(d[0])).y((d) => ys(d[1])).curve(d3.curveLinear);
  const colLine = row.noisy ? jagged : smooth;
  const yTicks = d3.range(0, row.yMin - 0.5, -1);
  const axisTop = ys(0.1);
  const axisBottom = row.yBottom;
  const colored: [keyof typeof COL, Pt[]][] = [
    ["orange", set.orange], ["green", set.green], ["blue", set.blue], ["red", set.red], ["black", set.black],
  ];
  return (
    <g>
      {set.gray.map((g, i) => (
        <path key={"g" + i} d={smooth(g) || ""} fill="none" stroke={COL.gray} strokeWidth={1} strokeLinejoin="round" />
      ))}
      {colored.map(([c, pts]) => (
        <path key={c} d={colLine(pts) || ""} fill="none" stroke={COL[c]} strokeWidth={2.6} strokeLinejoin="round" strokeLinecap="round" />
      ))}
      <line x1={x0} x2={x0} y1={axisTop} y2={axisBottom} stroke="#000" strokeWidth={1.4} />
      {yTicks.map((t) => (
        <g key={t}>
          <line x1={x0 - 6} x2={x0} y1={ys(t)} y2={ys(t)} stroke="#000" strokeWidth={1.4} />
          {labels && (
            <text x={x0 - 9} y={ys(t) + 6.5} textAnchor="end" fontSize={19} fontFamily={FONT}>
              {t.toFixed(1)}
            </text>
          )}
        </g>
      ))}
      {row.xAxis && (
        <g>
          <line x1={x0} x2={x1} y1={axisBottom} y2={axisBottom} stroke="#000" strokeWidth={1.4} />
          {X_TICKS.map((t) => (
            <g key={t}>
              <line x1={xs(t)} x2={xs(t)} y1={axisBottom} y2={axisBottom + 6} stroke="#000" strokeWidth={1.4} />
              <text x={xs(t)} y={axisBottom + 27} textAnchor="middle" fontSize={18.5} fontFamily={FONT}>
                {String(t)}
              </text>
            </g>
          ))}
          <text x={(x0 + x1) / 2} y={axisBottom + 57} textAnchor="middle" fontSize={18} fontFamily={FONT} letterSpacing={-0.4}>
            Time [ms]
          </text>
        </g>
      )}
      {labels && (
        <text
          transform={`translate(35,${(axisTop + axisBottom) / 2 + 3}) rotate(-90)`}
          textAnchor="middle"
          fontSize={19}
          fontFamily={FONT}
        >
          Current [nA]
        </text>
      )}
    </g>
  );
}

function Inset(props: { iv: (typeof ROWS)[number]["iv"] }) {
  const { iv } = props;
  const x0 = 629, x1 = 773;
  const xs = d3.scaleLinear().domain([-60, 20]).range([x0, x1]);
  const ys = d3.scaleLinear().domain([-1.09, 0.1]).range([iv.bottom, iv.top]);
  const pts = (vals: number[]): Pt[] => IV_V.map((v, i) => [v, vals[i]] as Pt);
  const line = d3.line<Pt>().x((d) => xs(d[0])).y((d) => ys(d[1]));
  const red = pts(iv.red);
  const black = pts(iv.black);
  return (
    <g>
      <line x1={x0} x2={x0} y1={iv.top} y2={iv.bottom} stroke="#000" strokeWidth={1.3} />
      <line x1={x0} x2={x1} y1={iv.bottom} y2={iv.bottom} stroke="#000" strokeWidth={1.3} />
      {IV_X_TICKS.map((t) => (
        <g key={t}>
          <line x1={xs(t)} x2={xs(t)} y1={iv.bottom} y2={iv.bottom + 6} stroke="#000" strokeWidth={1.3} />
          {iv.labels && (
            <text x={xs(t)} y={iv.bottom + 24} textAnchor="middle" fontSize={18.5} fontFamily={FONT}>
              {String(t)}
            </text>
          )}
        </g>
      ))}
      {IV_Y_TICKS.map((t) => (
        <g key={t}>
          <line x1={x0 - 6} x2={x0} y1={ys(t)} y2={ys(t)} stroke="#000" strokeWidth={1.3} />
          {iv.labels && (
            <text x={x0 - 8} y={ys(t) + 6.5} textAnchor="end" fontSize={18.5} fontFamily={FONT}>
              {t.toFixed(1)}
            </text>
          )}
        </g>
      ))}
      <path d={line(red) || ""} fill="none" stroke={COL.red} strokeWidth={1.3} strokeDasharray="2,2" />
      <path d={line(black) || ""} fill="none" stroke={COL.black} strokeWidth={1.3} strokeDasharray="2,2" />
      {red.map((d, i) => (
        <circle key={"r" + i} cx={xs(d[0])} cy={ys(d[1])} r={3.7} fill={COL.red} />
      ))}
      {black.map((d, i) => (
        <circle key={"b" + i} cx={xs(d[0])} cy={ys(d[1])} r={3.7} fill={COL.black} />
      ))}
      <text x={740} y={iv.top + 40} textAnchor="middle" fontSize={16.5} fontFamily={FONT}>
        I-V
      </text>
    </g>
  );
}

export default function App() {
  return (
    <svg
      width={795}
      height={1050}
      viewBox="0 0 795 1050"
      style={{ position: "absolute", left: 0, top: 0, background: "#fff" }}
    >
      <rect x={0} y={0} width={795} height={1050} fill="#fff" />
      {ROWS.map((row, i) => (
        <g key={i}>
          <text x={18} y={row.letterY} fontSize={32} fontWeight="bold" fontFamily={FONT}>
            {LETTERS[i]}
          </text>
          <text x={428} y={row.titleY} textAnchor="middle" fontSize={24.5} fontFamily={FONT}>
            {TITLES[i]}
          </text>
          <TracePanel x0={89} x1={411} row={row} set={row.left} labels={true} />
          <TracePanel x0={449} x1={773} row={row} set={row.right} labels={false} />
          <Inset iv={row.iv} />
        </g>
      ))}
    </svg>
  );
}
